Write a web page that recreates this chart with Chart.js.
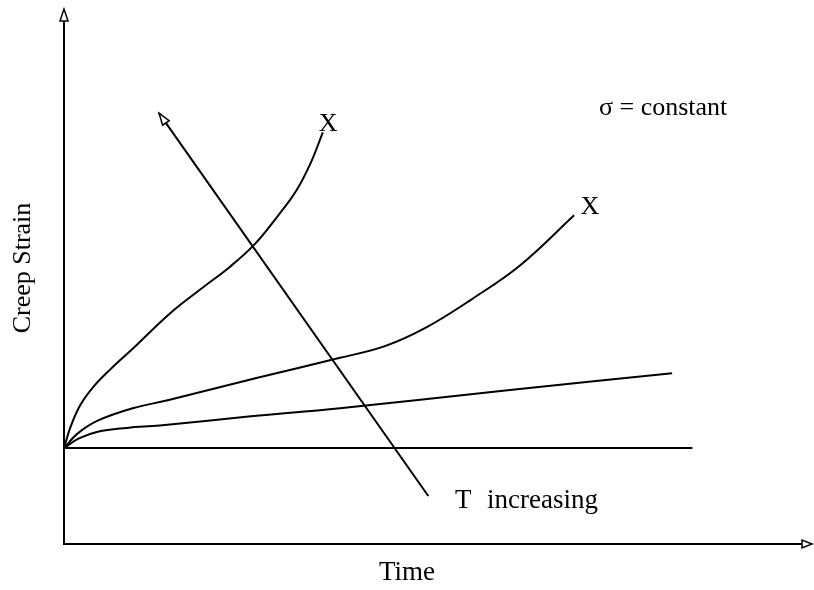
<!DOCTYPE html>
<html>
<head>
<meta charset="utf-8">
<script src="https://cdn.jsdelivr.net/npm/chart.js@4.4.1/dist/chart.umd.min.js"></script>
<style>
  body { margin: 0; background: #fff; }
  #wrap { width: 814px; height: 590px; }
</style>
</head>
<body>
<div id="wrap"><canvas id="creepChart" width="814" height="590"></canvas></div>
<script>
// creep curves (time, strain), arbitrary units
var highT = [[0, 0], [0.09, 0.45], [0.22, 0.90], [0.39, 1.27], [0.62, 1.64], [0.94, 2.10],
  [1.42, 2.81], [1.86, 3.35], [2.22, 3.78], [2.55, 4.25], [2.85, 4.82], [3.10, 5.35], [3.30, 5.95], [3.46, 6.58]];
var midT = [[0, 0], [0.18, 0.30], [0.45, 0.57], [0.92, 0.83], [1.40, 1.00], [2.60, 1.47],
  [3.69, 1.88], [4.30, 2.13], [4.85, 2.52], [5.45, 3.10], [6.10, 3.81], [6.82, 4.85]];
var lowT = [[0, 0], [0.20, 0.20], [0.45, 0.34], [0.84, 0.42], [1.28, 0.47], [2.50, 0.66],
  [3.69, 0.83], [5.90, 1.20], [8.13, 1.56]];
var zeroT = [[0, 0], [8.40, 0]];
var tArrow = [[4.87, -1.0], [1.27, 6.98]];
var ruptureMarks = [[3.53, 6.75], [7.03, 5.02]];

function pts(arr) {
  return arr.map(function (p) { return { x: p[0], y: p[1] }; });
}

var serif = '"Liberation Serif", "Times New Roman", serif';

function arrowHead(ctx, x, y, ang, len, wid) {
  ctx.save();
  ctx.translate(x, y);
  ctx.rotate(ang);
  ctx.beginPath();
  ctx.moveTo(0, 0);
  ctx.lineTo(-len, -wid);
  ctx.lineTo(-len, wid);
  ctx.closePath();
  ctx.fillStyle = '#fff';
  ctx.fill();
  ctx.lineWidth = 1.5;
  ctx.strokeStyle = '#000';
  ctx.stroke();
  ctx.restore();
}

var sketchPlugin = {
  id: 'sketch',
  afterDatasetsDraw: function (chart) {
    var ctx = chart.ctx;
    var xs = chart.scales.x, ys = chart.scales.y;
    var a = chart.chartArea;
    ctx.save();
    // axes
    ctx.strokeStyle = '#000';
    ctx.lineWidth = 2;
    ctx.beginPath();
    ctx.moveTo(a.left, a.top + 4);
    ctx.lineTo(a.left, a.bottom);
    ctx.lineTo(a.right - 4, a.bottom);
    ctx.stroke();
    arrowHead(ctx, a.left, a.top, -Math.PI / 2, 12, 4);
    arrowHead(ctx, a.right, a.bottom, 0, 10, 4);

    // temperature arrow head
    var p0 = tArrow[0], p1 = tArrow[1];
    var x0 = xs.getPixelForValue(p0[0]), y0 = ys.getPixelForValue(p0[1]);
    var x1 = xs.getPixelForValue(p1[0]), y1 = ys.getPixelForValue(p1[1]);
    arrowHead(ctx, x1, y1, Math.atan2(y1 - y0, x1 - x0), 12, 4);

    ctx.fillStyle = '#000';
    ctx.font = '26px ' + serif;
    ctx.textAlign = 'center';
    ctx.textBaseline = 'middle';
    ruptureMarks.forEach(function (m) {
      ctx.fillText('X', xs.getPixelForValue(m[0]), ys.getPixelForValue(m[1]));
    });

    ctx.textAlign = 'left';
    ctx.fillText('\u03c3 = constant', 599, 108);
    ctx.font = '27px ' + serif;
    ctx.fillText('T', 455, 501);
    ctx.fillText('increasing', 487, 501);

    ctx.textAlign = 'center';
    ctx.fillText('Time', 407, 573);
    ctx.font = '26px ' + serif;
    ctx.translate(23, 268);
    ctx.rotate(-Math.PI / 2);
    ctx.fillText('Creep Strain', 0, 0);
    ctx.restore();
  }
};

function lineSet(arr) {
  return {
    data: pts(arr),
    showLine: true,
    borderColor: '#000',
    borderWidth: 2,
    pointRadius: 0,
    tension: 0.4,
    fill: false
  };
}

var ctx = document.getElementById('creepChart');

var straight = lineSet(tArrow);
straight.tension = 0;

new Chart(ctx, {
  type: 'scatter',
  data: {
    datasets: [lineSet(highT), lineSet(midT), lineSet(lowT), lineSet(zeroT), straight]
  },
  options: {
    responsive: false,
    animation: false,
    layout: { padding: { left: 64, right: 2, top: 9, bottom: 46 } },
    plugins: { legend: { display: false }, tooltip: { enabled: false } },
    scales: {
      x: { type: 'linear', min: 0, max: 10, display: false },
      y: { type: 'linear', min: -2, max: 9.15, display: false }
    }
  },
  plugins: [sketchPlugin]
});
</script>
</body>
</html>
